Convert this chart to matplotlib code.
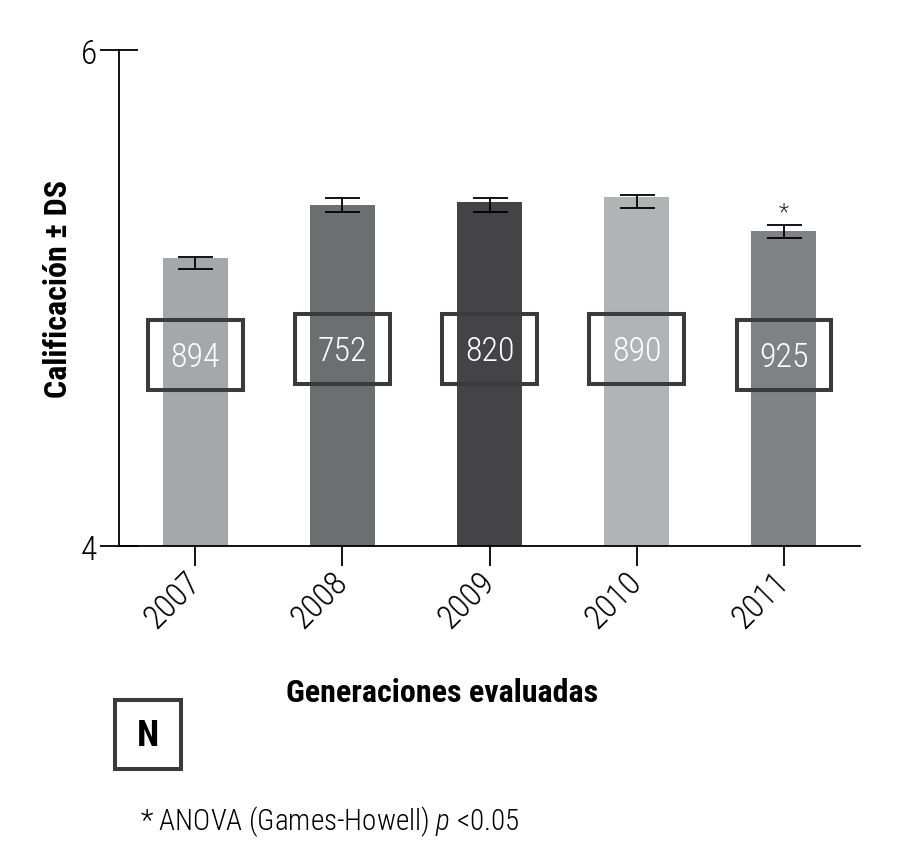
import matplotlib.pyplot as plt
from matplotlib.patches import Rectangle

years = ["2007", "2008", "2009", "2010", "2011"]
means = [5.161, 5.375, 5.387, 5.406, 5.270]
sd_low = [0.045, 0.028, 0.040, 0.042, 0.028]
sd_high = [0.006, 0.029, 0.017, 0.009, 0.026]
n_alumnos = [894, 752, 820, 890, 925]
colors = ["#a6a7aa", "#6d6e70", "#444446", "#b1b3b5", "#808184"]

plt.rcParams["font.family"] = ["Roboto Condensed", "Roboto", "DejaVu Sans"]
plt.rcParams["mathtext.fontset"] = "custom"
plt.rcParams["mathtext.rm"] = "Roboto Condensed:light"
plt.rcParams["mathtext.it"] = "Roboto Condensed:italic:light"

fig = plt.figure(figsize=(9.08, 8.62), dpi=100)
ax = fig.add_axes([119 / 908, 315 / 862, 741 / 908, 496 / 862])

x = range(len(years))
ax.bar(x, [m - 4 for m in means], bottom=4, width=0.44, color=colors, zorder=2)
ax.errorbar(x, means, yerr=[sd_low, sd_high], fmt="none", ecolor="black",
            elinewidth=1.3, capsize=12.6, capthick=1.3, zorder=3)

# cajas con N de cada generacion
box_center = [4.77, 4.794, 4.794, 4.794, 4.77]
for i, n in enumerate(n_alumnos):
    ax.add_patch(Rectangle((i - 0.32, box_center[i] - 0.141), 0.64, 0.282,
                           fill=False, edgecolor="#3b3b3d", linewidth=2.9,
                           zorder=4, clip_on=False))
    ax.text(i, box_center[i] - 0.008, str(n), color="white", fontsize=24.5,
            fontweight="light", ha="center", va="center", zorder=5)

ax.text(4, means[4] + sd_high[4] + 0.05, "*", fontsize=17, fontweight="light",
        ha="center", va="center", color="#333333")

ax.set_xlim(-0.52, 4.52)
ax.set_ylim(4, 6)
ax.set_yticks([4, 6])
ax.set_yticklabels(["4", "6"], fontsize=24, fontweight="light")
ax.set_xticks(list(x))
ax.set_xticklabels(years, fontsize=24, fontweight="light", rotation=45,
                   ha="right", va="center", rotation_mode="anchor")

ax.spines["top"].set_visible(False)
ax.spines["right"].set_visible(False)
ax.spines["left"].set_linewidth(1.3)
ax.spines["bottom"].set_linewidth(1.3)
ax.tick_params(axis="y", direction="inout", length=28, width=1.3, pad=1.5)
ax.tick_params(axis="x", direction="out", length=14.4, width=1.3, pad=8)

bold = dict(fontweight="bold", fontsize=23)
fig.text(58 / 908, 1 - 289 / 862, "Calificación ± DS", rotation=90,
         ha="center", va="center", **bold)
fig.text(442 / 908, 1 - 702 / 862, "Generaciones evaluadas", ha="center",
         va="baseline", **bold)

fig.patches.append(Rectangle((115 / 908, 92 / 862), 66 / 908, 69 / 862,
                             transform=fig.transFigure, fill=False,
                             edgecolor="#3b3b3d", linewidth=2.9))
fig.text(148 / 908, 1 - 736 / 862, "N", ha="center", va="center",
         fontweight="bold", fontsize=26)

fig.text(140 / 908, 1 - 830 / 862, "* ANOVA (Games-Howell) $p$ <0.05",
         ha="left", va="baseline", fontsize=21, fontweight="light")

fig.savefig("out.png", dpi=100)
